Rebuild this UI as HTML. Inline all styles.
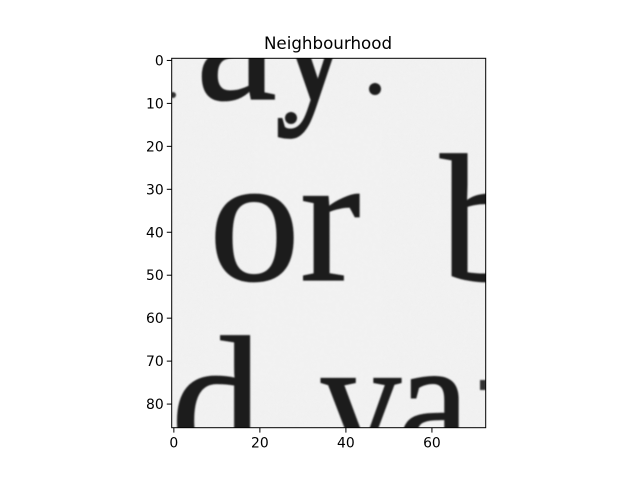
<!DOCTYPE html>
<html><head><meta charset="utf-8"><style>
html,body{margin:0;padding:0;background:#fff;}
svg{display:block;}
text{font-family:"DejaVu Sans","Liberation Sans",sans-serif;}
.g{font-family:"Liberation Serif",serif;fill:#1a1a1a;stroke:#1a1a1a;stroke-width:1.2;}
</style></head><body>
<svg id="chart" width="640" height="480" viewBox="0 0 640 480">
<defs>
<clipPath id="clip"><rect x="171.7" y="58.3" width="314" height="369.4"/></clipPath>
<filter id="blur"><feGaussianBlur stdDeviation="0.9"/></filter>
<filter id="noise"><feTurbulence type="fractalNoise" baseFrequency="0.25" numOctaves="2" seed="3"/><feColorMatrix type="matrix" values="0 0 0 0 0.94  0 0 0 0 0.94  0 0 0 0 0.94  0 0 0 -0.5 0.35"/></filter>
</defs>
<text x="328" y="49" font-size="16.7" text-anchor="middle" fill="#000">Neighbourhood</text>
<g clip-path="url(#clip)">
<rect x="171.7" y="58.3" width="314" height="369.4" fill="#f1f1f1"/>
<rect x="171.7" y="58.3" width="314" height="369.4" filter="url(#noise)" opacity="0.5"/>
<g filter="url(#blur)">
<text class="g" font-size="182" transform="translate(196,99)">a</text>
<text class="g" font-size="182" transform="translate(275,99) scale(0.85,1)">y</text>
<circle cx="375" cy="89" r="6" fill="#1a1a1a"/>
<circle cx="291" cy="118" r="6" fill="#1a1a1a"/>
<circle cx="173" cy="95" r="3" fill="#333"/>
<text class="g" font-size="182" transform="translate(209,280)">or</text>
<text class="g" font-size="182" transform="translate(440,280)">b</text>
<text class="g" font-size="182" transform="translate(171,462)">d</text>
<text class="g" font-size="182" transform="translate(321,462) scale(0.88,1)">v</text>
<text class="g" font-size="182" transform="translate(397,462) scale(0.9,1)">a</text>
<rect x="480" y="380" width="6" height="10" fill="#333"/>
</g>
</g>
<rect x="171.7" y="58.3" width="314" height="369.4" fill="none" stroke="#000" stroke-width="1"/>
<g id="xticks"></g>
<g id="yticks"></g>
</svg>
<script>
const xTickValues = [0, 20, 40, 60];
const yTickValues = [0, 10, 20, 30, 40, 50, 60, 70, 80];
const imageCols = 73;
const imageRows = 86;
const L = 171.7, T = 58.3, W = 314, H = 369.4;
const ns = "http://www.w3.org/2000/svg";
function xs(v){ return L + (v + 0.5) * W / imageCols; }
function ys(v){ return T + (v + 0.5) * H / imageRows; }
const gx = document.getElementById('xticks');
xTickValues.forEach(v => {
  const x = xs(v);
  const l = document.createElementNS(ns, 'line');
  l.setAttribute('x1', x); l.setAttribute('x2', x);
  l.setAttribute('y1', T + H); l.setAttribute('y2', T + H + 4.9);
  l.setAttribute('stroke', '#000');
  
  
  gx.appendChild(l);
  const t = document.createElementNS(ns, 'text');
  t.setAttribute('x', x); t.setAttribute('y', T + H + 20);
  t.setAttribute('font-size', '13.9');
  t.setAttribute('text-anchor', 'middle');
  t.textContent = v;
  
  
  gx.appendChild(t);
});
const gy = document.getElementById('yticks');
yTickValues.forEach(v => {
  const y = ys(v);
  const l = document.createElementNS(ns, 'line');
  l.setAttribute('x1', L - 4.9); l.setAttribute('x2', L);
  l.setAttribute('y1', y); l.setAttribute('y2', y);
  l.setAttribute('stroke', '#000');
  
  
  gy.appendChild(l);
  const t = document.createElementNS(ns, 'text');
  t.setAttribute('x', L - 8); t.setAttribute('y', y + 5);
  t.setAttribute('font-size', '13.9');
  t.setAttribute('text-anchor', 'end');
  t.textContent = v;
  
  
  gy.appendChild(t);
});
</script>
</body></html>
